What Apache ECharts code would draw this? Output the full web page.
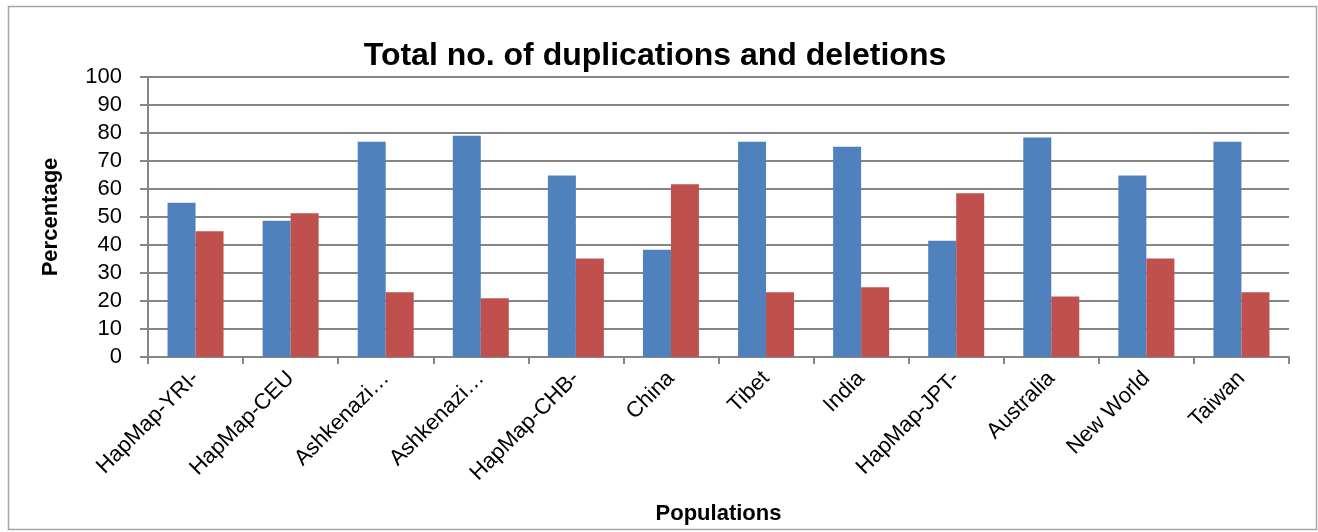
<!DOCTYPE html>
<html>
<head>
<meta charset="utf-8">
<script src="https://cdn.jsdelivr.net/npm/echarts@6/dist/echarts.min.js"></script>
<style>
  html, body { margin: 0; padding: 0; background: #fff; }
  #chart { width: 1318px; height: 532px; }
</style>
</head>
<body>
<div id="chart"></div>
<script>
// Populations on the category axis
const populations = ['HapMap-YRI-', 'HapMap-CEU', 'Ashkenazi…', 'Ashkenazi…', 'HapMap-CHB-', 'China',
  'Tibet', 'India', 'HapMap-JPT-', 'Australia', 'New World', 'Taiwan'];
// Percentage of duplications per population
const duplications = [55.1, 48.7, 76.9, 79.0, 64.8, 38.3, 76.9, 75.1, 41.5, 78.4, 64.8, 76.9];
// Percentage of deletions per population
const deletions = [44.9, 51.3, 23.1, 21.0, 35.2, 61.7, 23.1, 24.9, 58.5, 21.6, 35.2, 23.1];
// Value-axis range
const yMin = 0, yMax = 100, yStep = 10;

const font = 'Liberation Sans, Arial, sans-serif';
const gridColor = '#868686';

const chart = echarts.init(document.getElementById('chart'), null, { renderer: 'canvas' });
chart.setOption({
  animation: false,
  backgroundColor: '#ffffff',
  title: {
    text: 'Total no. of duplications and deletions',
    left: 650, top: 35, textAlign: 'center',
    textStyle: { fontFamily: font, fontWeight: 'bold', fontSize: 32, color: '#000' }
  },
  graphic: [{
    type: 'rect', silent: true,
    shape: { x: 8.5, y: 6.5, width: 1308, height: 523 },
    style: { fill: 'none', stroke: '#a6a6a6', lineWidth: 1.5 }
  }],
  grid: { left: 148, right: 29, top: 77, bottom: 175 },
  xAxis: {
    type: 'category',
    data: populations,
    name: 'Populations',
    nameLocation: 'middle',
    nameGap: 146,
    nameTextStyle: { fontFamily: font, fontWeight: 'bold', fontSize: 22, color: '#000' },
    axisLine: { lineStyle: { color: gridColor, width: 2 } },
    axisTick: { show: true, length: 7, alignWithLabel: false, lineStyle: { color: gridColor, width: 2 } },
    axisLabel: { rotate: 45, margin: 18, interval: 0, fontFamily: font, fontSize: 22, color: '#000' }
  },
  yAxis: {
    type: 'value',
    min: yMin, max: yMax, interval: yStep,
    name: 'Percentage',
    nameLocation: 'middle',
    nameGap: 86,
    nameRotate: 90,
    nameTextStyle: { fontFamily: font, fontWeight: 'bold', fontSize: 22, color: '#000' },
    axisLine: { show: true, lineStyle: { color: gridColor, width: 2 } },
    axisTick: { show: true, length: 8, lineStyle: { color: gridColor, width: 2 } },
    splitLine: { lineStyle: { color: gridColor, width: 2 } },
    axisLabel: { margin: 26, fontFamily: font, fontSize: 22, color: '#000' }
  },
  series: [
    {
      name: 'Duplications', type: 'bar', data: duplications,
      barWidth: 28, barGap: '0%',
      itemStyle: { color: '#4F81BD' }
    },
    {
      name: 'Deletions', type: 'bar', data: deletions,
      barWidth: 28, barGap: '0%',
      itemStyle: { color: '#C0504D' }
    }
  ]
});
</script>
</body>
</html>
